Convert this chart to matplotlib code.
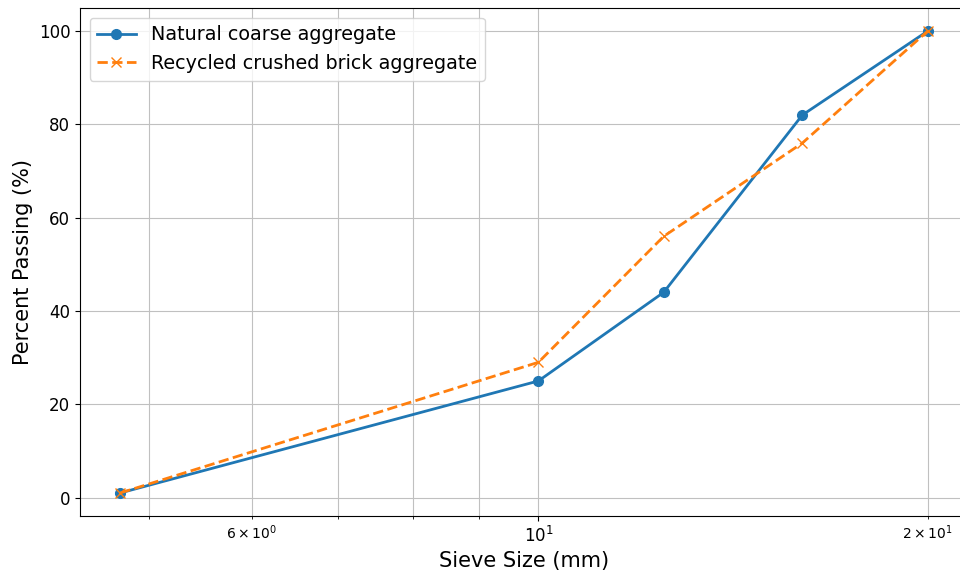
import matplotlib.pyplot as plt

# sieve sizes (mm) and cumulative percent passing
sieve_sizes = [4.75, 10, 12.5, 16, 20]
natural_passing = [1, 25, 44, 82, 100]
recycled_passing = [1, 29, 56, 76, 100]

fig = plt.figure(figsize=(9.6, 5.74), dpi=100)
ax = fig.add_axes([80 / 960, 1 - 516 / 574, 888 / 960, 508 / 574])

ax.plot(sieve_sizes, natural_passing, 'o-', color='#1f77b4', lw=2, ms=7,
        label='Natural coarse aggregate')
ax.plot(sieve_sizes, recycled_passing, 'x--', color='#ff7f0e', lw=2, ms=7,
        label='Recycled crushed brick aggregate')
ax.set_xscale('log')
ax.set_xlabel('Sieve Size (mm)', fontsize=15)
ax.set_ylabel('Percent Passing (%)', fontsize=15)
ax.tick_params(axis='y', labelsize=12)
ax.tick_params(axis='x', which='major', labelsize=12)
ax.grid(True, which='both', color='#c0c0c0', lw=0.8)
ax.legend(loc='upper left', fontsize=13.8)

fig.savefig('out.png', dpi=100)
